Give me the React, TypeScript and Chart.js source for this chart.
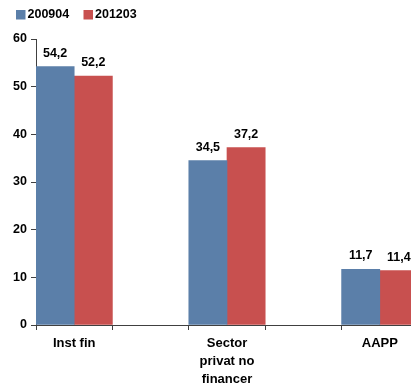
import React, { useEffect, useRef } from "react";
import { Chart, registerables } from "chart.js";

Chart.register(...registerables);

// Category names, split into the lines shown under the axis
const categoryLines: string[][] = [["Inst fin"], ["Sector", "privat no", "financer"], ["AAPP"]];
const seriesNames = ["200904", "201203"];
const values200904 = [54.2, 34.5, 11.7];
const values201203 = [52.2, 37.2, 11.4];
const yTicks = [0, 10, 20, 30, 40, 50, 60];

const colors = ["#5b7fa9", "#c8504f"];
const FONT = "'Liberation Sans', Arial, sans-serif";

// Each category is followed by an empty slot, so bars sit at the left of a double-width cell
function withGaps<T>(arr: T[], blank: T): T[] {
  const out: T[] = [];
  arr.forEach((v, i) => {
    out.push(v);
    if (i < arr.length - 1) out.push(blank);
  });
  return out;
}

const fmt = (v: number) => v.toFixed(1).replace(".", ",");

const valueLabels = {
  id: "valueLabels",
  afterDatasetsDraw(chart: any) {
    const ctx = chart.ctx;
    ctx.save();
    ctx.font = `bold 12.5px ${FONT}`;
    ctx.fillStyle = "#000";
    ctx.textAlign = "center";
    ctx.textBaseline = "alphabetic";
    chart.data.datasets.forEach((ds: any, di: number) => {
      const meta = chart.getDatasetMeta(di);
      meta.data.forEach((bar: any, i: number) => {
        const v = ds.data[i];
        if (v === null || v === undefined) return;
        ctx.fillText(fmt(v), bar.x, bar.y - 10);
      });
    });
    ctx.restore();
  },
};

const topLegend = {
  id: "topLegend",
  afterDraw(chart: any) {
    const ctx = chart.ctx;
    ctx.save();
    ctx.font = `bold 12.5px ${FONT}`;
    ctx.textBaseline = "middle";
    ctx.textAlign = "left";
    let x = 16;
    chart.data.datasets.forEach((ds: any) => {
      ctx.fillStyle = ds.backgroundColor;
      ctx.fillRect(x, 10, 9.5, 9.5);
      ctx.fillStyle = "#000";
      ctx.fillText(ds.label, x + 11.5, 15);
      x += 67.5;
    });
    ctx.restore();
  },
};

export default function App() {
  const canvasRef = useRef<HTMLCanvasElement | null>(null);

  useEffect(() => {
    if (!canvasRef.current) return;
    const labels = withGaps<string[] | string>(categoryLines, "");
    const chart = new Chart(canvasRef.current, {
      type: "bar",
      data: {
        labels,
        datasets: [
          {
            label: seriesNames[0],
            data: withGaps<number | null>(values200904, null),
            backgroundColor: colors[0],
            categoryPercentage: 1,
            barPercentage: 1,
          },
          {
            label: seriesNames[1],
            data: withGaps<number | null>(values201203, null),
            backgroundColor: colors[1],
            categoryPercentage: 1,
            barPercentage: 1,
          },
        ],
      },
      options: {
        animation: false,
        responsive: true,
        maintainAspectRatio: false,
        layout: { padding: { top: 39, right: 2, left: 0, bottom: 0 } },
        plugins: { legend: { display: false }, tooltip: { enabled: false } },
        scales: {
          x: {
            offset: true,
            grid: {
              offset: true,
              drawOnChartArea: false,
              drawTicks: true,
              tickLength: 5,
              color: "#404040",
            },
            border: { display: true, color: "#404040", width: 1 },
            ticks: {
              autoSkip: false,
              maxRotation: 0,
              padding: 5,
              color: "#000",
              font: { family: FONT, size: 13, weight: "bold", lineHeight: 1.36 },
            },
            afterFit(scale: any) {
              scale.height = 60;
            },
          },
          y: {
            min: yTicks[0],
            max: yTicks[yTicks.length - 1],
            afterBuildTicks(scale: any) {
              scale.ticks = yTicks.map((v) => ({ value: v }));
            },
            grid: {
              drawOnChartArea: false,
              drawTicks: true,
              tickLength: 5,
              color: "#404040",
            },
            border: { display: true, color: "#404040", width: 1 },
            ticks: {
              padding: 4,
              color: "#000",
              font: { family: FONT, size: 12.5, weight: "bold" },
            },
            afterFit(scale: any) {
              scale.width = 36;
            },
          },
        },
      },
      plugins: [valueLabels, topLegend],
    });
    return () => chart.destroy();
  }, []);

  return (
    <div
      style={{
        position: "fixed",
        left: 0,
        top: 0,
        width: 411,
        height: 385,
        overflow: "hidden",
        background: "#fff",
      }}
    >
      <div style={{ position: "relative", width: 420, height: 385 }}>
        <canvas ref={canvasRef} />
      </div>
    </div>
  );
}
